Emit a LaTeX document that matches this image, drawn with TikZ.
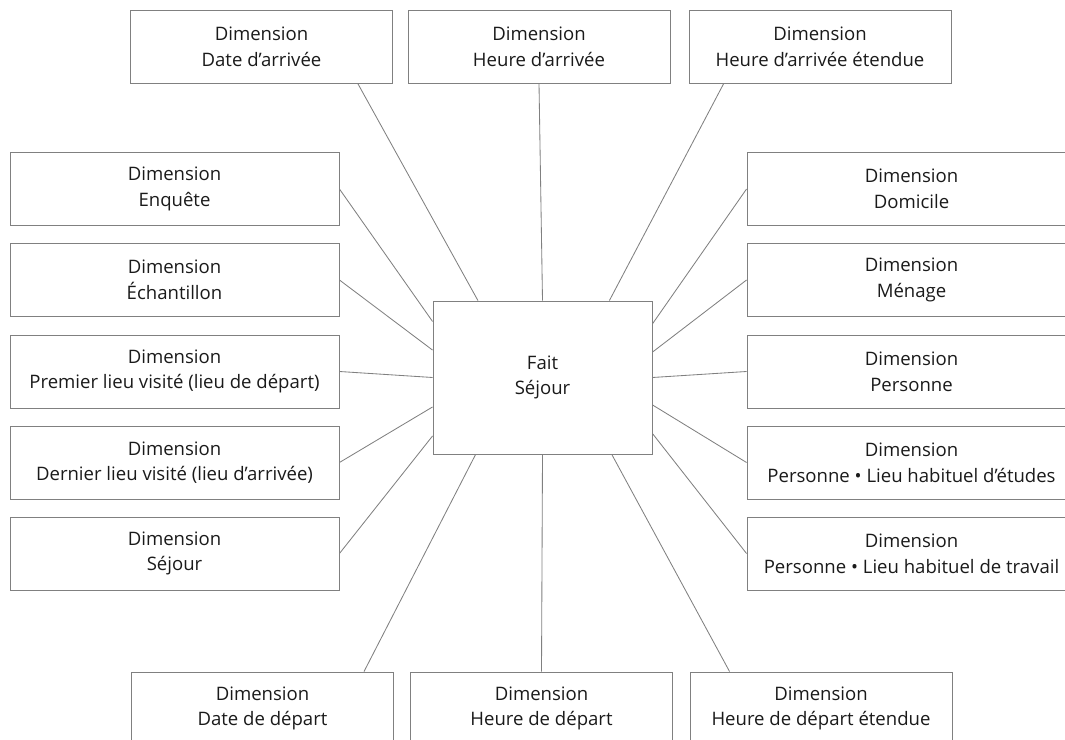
\documentclass[tikz,border=0pt]{standalone}
\usepackage{fontspec}
\setmainfont{Open Sans}
\definecolor{linegray}{RGB}{128,128,128}
\definecolor{textgray}{RGB}{26,26,26}
\tikzset{every picture/.append style={x=0.025cm, y=-0.025cm}}
\tikzset{
    dim/.style={rectangle, draw=linegray, line width=0.6pt, inner sep=0pt,
    	minimum width=6.55cm, minimum height=1.825cm, align=center,
    	text=textgray, font=\fontsize{13.2}{18.2}\selectfont},
    wide/.style={dim, minimum width=8.225cm},
    every edge/.append style={draw=linegray, line width=0.6pt}
}

\begin{document}
\begin{tikzpicture}
	\useasboundingbox (0,0) rectangle (1065,740);

	\node (fait) [dim, minimum width=5.475cm, minimum height=3.825cm] at (542.5, 377.5) {Fait\\Séjour};

	\node (ddarr) [dim] at (261.5, 46.5) {Dimension\\Date d’arrivée};
	\node (hdarr) [dim] at (539, 46.5) {Dimension\\Heure d’arrivée};
	\node (hdarrx) [dim] at (820, 46.5) {Dimension\\Heure d’arrivée étendue};

	\node (enq) [wide] at (174.5, 189) {Dimension\\Enquête};
	\node (ech) [wide] at (174.5, 280) {Dimension\\Échantillon};
	\node (prem) [wide] at (174.5, 371.5) {Dimension\\Premier lieu visité (lieu de départ)};
	\node (dern) [wide] at (174.5, 462.5) {Dimension\\Dernier lieu visité (lieu d’arrivée)};
	\node (sej) [wide] at (174.5, 553.5) {Dimension\\Séjour};

	\node (dom) [wide] at (911.5, 189) {Dimension\\Domicile};
	\node (men) [wide] at (911.5, 280) {Dimension\\Ménage};
	\node (pers) [wide] at (911.5, 371.5) {Dimension\\Personne};
	\node (etud) [wide] at (911.5, 462.5) {Dimension\\Personne • Lieu habituel d’études};
	\node (trav) [wide] at (911.5, 553.5) {Dimension\\Personne • Lieu habituel de travail};

	\node (dddep) [dim] at (262.5, 708.5) {Dimension\\Date de départ};
	\node (hddep) [dim] at (541.5, 708.5) {Dimension\\Heure de départ};
	\node (hddepx) [dim] at (821, 708.5) {Dimension\\Heure de départ étendue};

	\draw (fait.130.6) edge (ddarr.-21.3); \draw (fait.north) edge (hdarr.south);
	\draw (fait.49) edge (hdarrx.-159.4);

	\draw (fait.153.5) edge (enq.east); \draw (fait.166.4) edge (ech.east);
	\draw (fait.west) edge (prem.east); \draw (fait.-165.4) edge (dern.east);
	\draw (fait.-152.3) edge (sej.east);

	\draw (fait.26.5) edge (dom.west); \draw (fait.13.6) edge (men.west);
	\draw (fait.east) edge (pers.west); \draw (fait.-14.6) edge (etud.west);
	\draw (fait.-27.7) edge (trav.west);

	\draw (fait.-131) edge (dddep.20.3); \draw (fait.south) edge (hddep.north);
	\draw (fait.-48.6) edge (hddepx.158.6);
\end{tikzpicture}
\end{document}
